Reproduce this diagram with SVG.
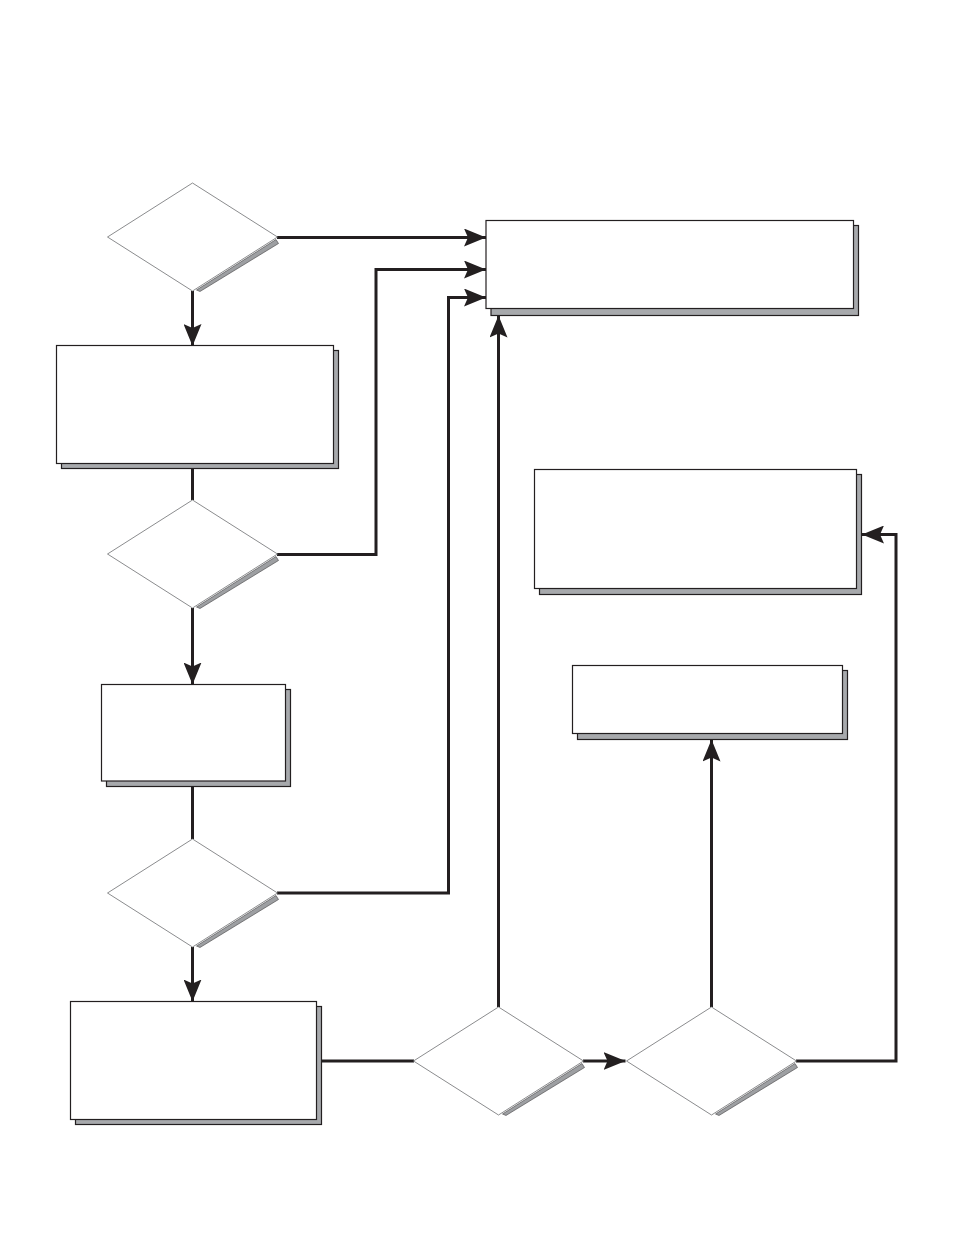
<svg xmlns="http://www.w3.org/2000/svg" width="954" height="1235" viewBox="0 0 954 1235">
<defs>
<style>
.sh{fill:#a7a9ac;stroke:#231f20;stroke-width:1.2}
.bx{fill:#fff;stroke:#231f20;stroke-width:1.2}
.dm{fill:#fff;stroke:#6d6e71;stroke-width:0.8}
.ds{fill:#9d9fa2;stroke:#414042;stroke-width:0.6}
.ln{fill:none;stroke:#231f20;stroke-width:3}
</style>
<marker id="ah" markerUnits="userSpaceOnUse" viewBox="0 0 22 18" markerWidth="22" markerHeight="18" refX="22" refY="9" orient="auto">
<path d="M0,0 L22,9 L0,18 L4,9 Z" fill="#231f20"/>
</marker>
</defs>
<rect width="954" height="1235" fill="#fff"/>
<g id="connectors">
<path class="ln" d="M277,237.5 H486" marker-end="url(#ah)"/>
<path class="ln" d="M277,554.5 H376 V269.5 H486" marker-end="url(#ah)"/>
<path class="ln" d="M277,893 H448.5 V297.5 H486" marker-end="url(#ah)"/>
<path class="ln" d="M192.5,291 V346" marker-end="url(#ah)"/>
<path class="ln" d="M192.5,468 V500"/>
<path class="ln" d="M192.5,608 V684.5" marker-end="url(#ah)"/>
<path class="ln" d="M192.5,786 V839"/>
<path class="ln" d="M192.5,947 V1001.5" marker-end="url(#ah)"/>
<path class="ln" d="M321,1061 H414"/>
<path class="ln" d="M498.5,1007 V315.5" marker-end="url(#ah)"/>
<path class="ln" d="M583,1061 H625.5" marker-end="url(#ah)"/>
<path class="ln" d="M711.5,1007 V739.5" marker-end="url(#ah)"/>
<path class="ln" d="M796,1061 H896 V534.5 H862" marker-end="url(#ah)"/>
</g>
<g id="d1">
<polygon class="dm" points="192.5,183 277.5,237 192.5,291 107.5,237"/>
<polygon class="ds" points="276,239.5 278.5,243.5 200,291.5 196.5,290"/>
</g>
<g id="d2">
<polygon class="dm" points="192.5,500 277.5,554 192.5,608 107.5,554"/>
<polygon class="ds" points="276,556.5 278.5,560.5 200,608.5 196.5,607"/>
</g>
<g id="d3">
<polygon class="dm" points="192.5,839 277.5,893 192.5,947 107.5,893"/>
<polygon class="ds" points="276,895.5 278.5,899.5 200,947.5 196.5,946"/>
</g>
<g id="d4">
<polygon class="dm" points="498.5,1007 583.5,1061 498.5,1115 413.5,1061"/>
<polygon class="ds" points="582,1063.5 584.5,1067.5 506,1115.5 502.5,1114"/>
</g>
<g id="d5">
<polygon class="dm" points="711.5,1007 796.5,1061 711.5,1115 626.5,1061"/>
<polygon class="ds" points="795,1063.5 797.5,1067.5 719,1115.5 715.5,1114"/>
</g>
<g id="b1">
<rect class="sh" x="491" y="225.5" width="367.5" height="90"/>
<rect class="bx" x="486" y="220.5" width="367.5" height="88"/>
</g>
<g id="b2">
<rect class="sh" x="61.5" y="350.5" width="277" height="118"/>
<rect class="bx" x="56.5" y="345.5" width="277" height="118"/>
</g>
<g id="b3">
<rect class="sh" x="106.5" y="689.5" width="184" height="97"/>
<rect class="bx" x="101.5" y="684.5" width="184" height="96.5"/>
</g>
<g id="b4">
<rect class="sh" x="75.5" y="1006.5" width="246" height="118"/>
<rect class="bx" x="70.5" y="1001.5" width="246" height="118"/>
</g>
<g id="b5">
<rect class="sh" x="539.5" y="474.5" width="322" height="120"/>
<rect class="bx" x="534.5" y="469.5" width="322" height="119"/>
</g>
<g id="b6">
<rect class="sh" x="577.5" y="670.5" width="270" height="69"/>
<rect class="bx" x="572.5" y="665.5" width="270" height="68"/>
</g>
</svg>
